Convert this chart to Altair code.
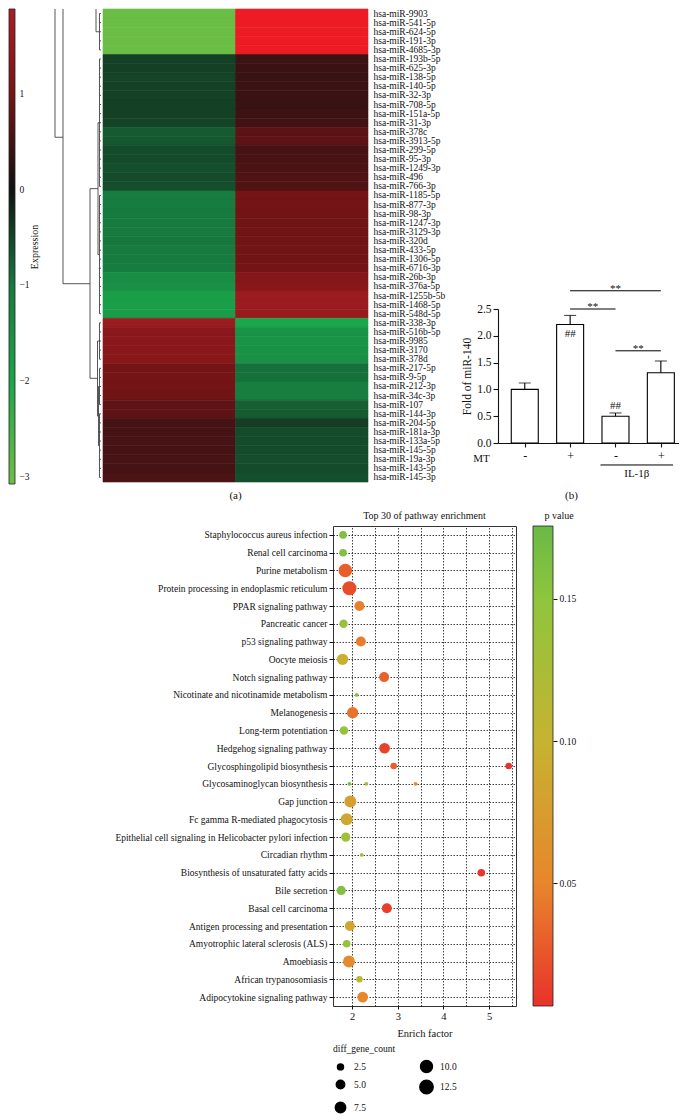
import json
import altair as alt
import pandas as pd

FONT = "Liberation Serif"
INK = "#111111"

# ---------------- (a) heatmap data ----------------
mirna = [
    "hsa-miR-9903", "hsa-miR-541-5p", "hsa-miR-624-5p", "hsa-miR-191-3p", "hsa-miR-4685-3p",
    "hsa-miR-193b-5p", "hsa-miR-625-3p", "hsa-miR-138-5p", "hsa-miR-140-5p", "hsa-miR-32-3p",
    "hsa-miR-708-5p", "hsa-miR-151a-5p", "hsa-miR-31-3p", "hsa-miR-378c", "hsa-miR-3913-5p",
    "hsa-miR-299-5p", "hsa-miR-95-3p", "hsa-miR-1249-3p", "hsa-miR-496", "hsa-miR-766-3p",
    "hsa-miR-1185-5p", "hsa-miR-877-3p", "hsa-miR-98-3p", "hsa-miR-1247-3p", "hsa-miR-3129-3p",
    "hsa-miR-320d", "hsa-miR-433-5p", "hsa-miR-1306-5p", "hsa-miR-6716-3p", "hsa-miR-26b-3p",
    "hsa-miR-376a-5p", "hsa-miR-1255b-5b", "hsa-miR-1468-5p", "hsa-miR-548d-5p", "hsa-miR-338-3p",
    "hsa-miR-516b-5p", "hsa-miR-9985", "hsa-miR-3170", "hsa-miR-378d", "hsa-miR-217-5p",
    "hsa-miR-9-5p", "hsa-miR-212-3p", "hsa-miR-34c-3p", "hsa-miR-107", "hsa-miR-144-3p",
    "hsa-miR-204-5p", "hsa-miR-181a-3p", "hsa-miR-133a-5p", "hsa-miR-145-5p", "hsa-miR-19a-3p",
    "hsa-miR-143-5p", "hsa-miR-145-3p",
]
expr_left = [
    -3, -3, -3, -3, -3,
    -0.45, -0.45, -0.48, -0.45, -0.47, -0.45, -0.46, -0.48,
    -0.70, -0.68,
    -0.55, -0.55, -0.58, -0.55, -0.58,
    -1.05, -1.05, -1.0, -1.0, -1.0, -0.98, -1.0, -1.02, -1.05,
    -1.45, -1.5,
    -1.85, -1.85, -1.8,
    1.6, 1.3, 1.3, 1.28, 1.25,
    0.95, 0.95, 0.95, 0.9,
    0.75, 0.72,
    0.5, 0.5, 0.52, 0.5, 0.52, 0.5, 0.55,
]
expr_right = [
    3, 3, 3, 3, 3,
    0.42, 0.40, 0.38, 0.40, 0.40, 0.38, 0.42, 0.45,
    0.70, 0.72,
    0.50, 0.52, 0.55, 0.58, 0.60,
    0.95, 0.95, 0.92, 0.9, 0.9, 0.9, 0.9, 0.92, 0.95,
    1.2, 1.25,
    1.6, 1.6, 1.55,
    -2.0, -1.6, -1.6, -1.55, -1.5,
    -0.9, -0.9, -1.1, -1.1,
    -0.75, -0.7,
    -0.42, -0.55, -0.55, -0.55, -0.58, -0.55, -0.58,
]
sample_names = ["S1", "S2"]
expr_ticks = [-3, -2, -1, 0, 1]
expr_stops = [-3, -2, -1, 0, 1, 2, 3]
expr_colors = ["#6abd45", "#1aa64a", "#177a3f", "#111111", "#7a1416", "#b01f27", "#ed1c24"]
expr_bar_lo, expr_bar_hi = -3.08, 1.88

# dendrogram (heights in distance units, positions in row units)
leaf_first = [1, 6, 21, 35, 40, 45]
leaf_last = [5, 20, 34, 39, 44, 52]
leaf_height = [1.5, 1.5, 1.5, 1.5, 1.5, 1.5]
node_h1 = [3, 1.5, 1.5, 2.5, 1.5, 1.5, 3.5, 1.5, 2.5, 11, 3, 3.5, 5, 1.5, 38, 5, 11, 46, 38]
node_h2 = [3, 3, 3, 2.5, 2.5, 2.5, 3.5, 3.5, 3.5, 11, 11, 11, 5, 5, 38, 38, 38, 46, 46]
node_r1 = [13, 13, 27.5, 42, 42, 48.5, 37, 37, 45.25, 20.25, 20.25, 41.1, -6, 3, -1.5, -1.5, 30.7, -20, 14.6]
node_r2 = [27.5, 13, 27.5, 48.5, 42, 48.5, 45.25, 37, 45.25, 41.1, 20.25, 41.1, 3, 3, 30.7, -1.5, 30.7, 14.6, 14.6]

# ---------------- (b) bar chart data ----------------
bar_pos = [1, 2, 3, 4]
bar_mean = [1.00, 2.21, 0.50, 1.31]
bar_sd = [0.12, 0.17, 0.06, 0.22]
mt_sign = ["-", "+", "-", "+"]
hash_pos = [2, 3]
hash_y = [2.03, 0.69]
sig_from = [2, 2, 3]
sig_to = [4, 3, 4]
sig_y = [2.84, 2.50, 1.72]
il_from, il_to, il_line_y, il_text_y = 2.67, 4.27, -0.41, -0.58
bar_ticks = [0, 0.5, 1.0, 1.5, 2.0, 2.5]

# ---------------- (c) enrichment dot plot data ----------------
pathways = [
    "Staphylococcus aureus infection", "Renal cell carcinoma", "Purine metabolism",
    "Protein processing in endoplasmic reticulum", "PPAR signaling pathway", "Pancreatic cancer",
    "p53 signaling pathway", "Oocyte meiosis", "Notch signaling pathway",
    "Nicotinate and nicotinamide metabolism", "Melanogenesis", "Long-term potentiation",
    "Hedgehog signaling pathway", "Glycosphingolipid biosynthesis", "Glycosaminoglycan biosynthesis",
    "Gap junction", "Fc gamma R-mediated phagocytosis",
    "Epithelial cell signaling in Helicobacter pylori infection", "Circadian rhythm",
    "Biosynthesis of unsaturated fatty acids", "Bile secretion", "Basal cell carcinoma",
    "Antigen processing and presentation", "Amyotrophic lateral sclerosis (ALS)", "Amoebiasis",
    "African trypanosomiasis", "Adipocytokine signaling pathway",
]
pt_path = [
    "Staphylococcus aureus infection", "Renal cell carcinoma", "Purine metabolism",
    "Protein processing in endoplasmic reticulum", "PPAR signaling pathway", "Pancreatic cancer",
    "p53 signaling pathway", "Oocyte meiosis", "Notch signaling pathway",
    "Nicotinate and nicotinamide metabolism", "Melanogenesis", "Long-term potentiation",
    "Hedgehog signaling pathway", "Glycosphingolipid biosynthesis", "Glycosphingolipid biosynthesis",
    "Glycosaminoglycan biosynthesis", "Glycosaminoglycan biosynthesis", "Glycosaminoglycan biosynthesis",
    "Gap junction", "Fc gamma R-mediated phagocytosis",
    "Epithelial cell signaling in Helicobacter pylori infection", "Circadian rhythm",
    "Biosynthesis of unsaturated fatty acids", "Bile secretion", "Basal cell carcinoma",
    "Antigen processing and presentation", "Amyotrophic lateral sclerosis (ALS)", "Amoebiasis",
    "African trypanosomiasis", "Adipocytokine signaling pathway",
]
pt_enrich = [1.80, 1.80, 1.85, 1.94, 2.16, 1.81, 2.19, 1.79, 2.70, 2.10, 2.01, 1.82, 2.71,
             2.91, 5.43, 1.94, 2.31, 3.39, 1.96, 1.88, 1.86, 2.21, 4.83, 1.76, 2.76, 1.95,
             1.88, 1.93, 2.16, 2.23]
pt_count = [4, 4, 13, 14, 7, 5, 7, 9, 7, 1, 9, 5, 8, 3, 3, 1, 1, 1, 10, 10, 6, 1, 4, 6, 7,
            7, 4, 10, 3, 8]
pt_p = [0.160, 0.160, 0.030, 0.020, 0.047, 0.140, 0.045, 0.095, 0.032, 0.160, 0.040, 0.145,
        0.015, 0.030, 0.007, 0.165, 0.130, 0.050, 0.078, 0.088, 0.135, 0.130, 0.009, 0.160,
        0.013, 0.085, 0.140, 0.055, 0.110, 0.050]
p_stops = [0.0067, 0.05, 0.10, 0.15, 0.1757]
p_colors = ["#e8322a", "#e8862c", "#c6b331", "#8fc53d", "#6ab946"]
p_ticks = [0.05, 0.10, 0.15]
ef_grid = [2, 2.5, 3, 3.5, 4, 4.5, 5, 5.5]
size_legend_values = [2.5, 5.0, 7.5, 10.0, 12.5]

ROW_H = 473


def spacer(w, h=2):
    return (
        alt.Chart(pd.DataFrame({"v": [0]}))
        .mark_point(opacity=0, size=1)
        .encode(x=alt.value(1), y=alt.value(1))
        .properties(width=w, height=h)
    )


# ---------- colour bar for expression ----------
grad1 = alt.LinearGradient(
    gradient="linear", x1=0, x2=0, y1=1, y2=0,
    stops=[
        alt.GradientStop(color="#6abd45", offset=0.0),
        alt.GradientStop(color="#6abd45", offset=0.016),
        alt.GradientStop(color="#1aa64a", offset=0.218),
        alt.GradientStop(color="#177a3f", offset=0.419),
        alt.GradientStop(color="#111111", offset=0.621),
        alt.GradientStop(color="#7a1416", offset=0.823),
        alt.GradientStop(color="#a91e25", offset=1.0),
    ],
)
cbar1 = (
    alt.Chart(pd.DataFrame({"lo": [expr_bar_lo], "hi": [expr_bar_hi]}))
    .mark_rect(fill=grad1, stroke="#222222", strokeWidth=0.8)
    .encode(
        y=alt.Y("lo:Q", scale=alt.Scale(domain=[expr_bar_lo, expr_bar_hi], nice=False, zero=False),
                axis=alt.Axis(orient="right", values=expr_ticks, format="d", ticks=False, domain=False,
                              grid=False, labelFontSize=9.5, labelPadding=4, title="Expression",
                              titleAngle=270, titleFontSize=10, titlePadding=10)),
        y2="hi:Q",
        x=alt.value(0),
        x2=alt.value("width"),
    )
    .properties(width=6, height=475)
)

# ---------- dendrogram ----------
seg = {"h1": [], "h2": [], "r1": [], "r2": []}
for f, l, h in zip(leaf_first, leaf_last, leaf_height):
    seg["h1"].append(h); seg["h2"].append(h); seg["r1"].append(f); seg["r2"].append(l)
    for r in range(f, l + 1):
        seg["h1"].append(0); seg["h2"].append(h); seg["r1"].append(r); seg["r2"].append(r)
for a, b, c, d in zip(node_h1, node_h2, node_r1, node_r2):
    seg["h1"].append(a); seg["h2"].append(b); seg["r1"].append(c); seg["r2"].append(d)
dendro = (
    alt.Chart(pd.DataFrame(seg))
    .mark_rule(color="#444444", strokeWidth=0.9, clip=True)
    .encode(
        x=alt.X("h1:Q", scale=alt.Scale(domain=[0, 84], reverse=True, nice=False, zero=False), axis=None),
        x2="h2:Q",
        y=alt.Y("r1:Q", scale=alt.Scale(domain=[0.5, len(mirna) + 0.5], reverse=True, nice=False, zero=False), axis=None),
        y2="r2:Q",
    )
    .properties(width=84, height=ROW_H)
)

# ---------- heatmap ----------
heat_df = pd.DataFrame({
    "miRNA": mirna * 2,
    "sample": [sample_names[0]] * len(mirna) + [sample_names[1]] * len(mirna),
    "expr": expr_left + expr_right,
})
expr_scale = alt.Scale(domain=expr_stops, range=expr_colors, interpolate="rgb")
heat = (
    alt.Chart(heat_df)
    .mark_rect(strokeWidth=0.6)
    .encode(
        x=alt.X("sample:N", sort=sample_names, axis=None, scale=alt.Scale(paddingInner=0, paddingOuter=0)),
        y=alt.Y("miRNA:N", sort=mirna, scale=alt.Scale(paddingInner=0, paddingOuter=0),
                axis=alt.Axis(orient="right", title=None, ticks=False, domain=False, labelFontSize=9.5,
                              labelPadding=5, labelLimit=200)),
        color=alt.Color("expr:Q", scale=expr_scale, legend=None),
        stroke=alt.Stroke("expr:Q", scale=expr_scale, legend=None),
    )
    .properties(width=265, height=ROW_H,
                title=alt.TitleParams("(a)", orient="bottom", fontSize=11, offset=8))
)

# ---------- (b) bar chart ----------
bar_df = pd.DataFrame({"pos": bar_pos, "mean": bar_mean, "sd": bar_sd})
bar_df["top"] = bar_df["mean"] + bar_df["sd"]
xs = alt.Scale(domain=[0.52, 4.29], nice=False, zero=False)
ys = alt.Scale(domain=[0, 2.5], range=[434, 300], nice=False, zero=False)
label_expr = json.dumps(mt_sign) + "[datum.value - 1]"
x_axis = alt.Axis(orient="bottom", offset=-(ROW_H - 434), values=bar_pos, labelExpr=label_expr,
                  tickSize=4, tickWidth=1.1, domainWidth=1.1, labelFontSize=12, labelPadding=3,
                  grid=False, title="MT", titleX=-17, titleY=15, titleAlign="center",
                  titleBaseline="middle", titleAngle=0, titleFontSize=11)
y_axis = alt.Axis(values=bar_ticks, format=".1f", tickSize=5, tickWidth=1.1, domainWidth=1.1,
                  grid=False, labelFontSize=11.5, labelPadding=2, title="Fold of miR-140",
                  titleFontSize=11.5, titlePadding=4)

bars = alt.Chart(bar_df).mark_bar(size=27, fill="white", stroke="black", strokeWidth=1.1, orient="vertical").encode(
    x=alt.X("pos:Q", scale=xs, axis=x_axis),
    y=alt.Y("mean:Q", scale=ys, axis=y_axis),
    y2=alt.datum(0),
)
err = alt.Chart(bar_df).mark_rule(color="black", strokeWidth=1.1).encode(
    x=alt.X("pos:Q", scale=xs, axis=x_axis), y=alt.Y("mean:Q", scale=ys, axis=y_axis), y2="top:Q")
cap = alt.Chart(bar_df).mark_tick(color="black", orient="horizontal", size=12, thickness=1.1).encode(
    x=alt.X("pos:Q", scale=xs, axis=x_axis), y=alt.Y("top:Q", scale=ys, axis=y_axis))
hash_txt = alt.Chart(pd.DataFrame({"pos": hash_pos, "y": hash_y, "t": ["##", "##"]})).mark_text(
    font=FONT, fontSize=11, color=INK, baseline="middle").encode(
    x=alt.X("pos:Q", scale=xs, axis=x_axis), y=alt.Y("y:Q", scale=ys, axis=y_axis), text="t:N")
sig_df = pd.DataFrame({"a": sig_from, "b": sig_to, "y": sig_y})
sig_df["mid"] = (sig_df["a"] + sig_df["b"]) / 2
sig_df["t"] = "**"
sig_lines = alt.Chart(sig_df).mark_rule(color="black", strokeWidth=1).encode(
    x=alt.X("a:Q", scale=xs, axis=x_axis), x2="b:Q", y=alt.Y("y:Q", scale=ys, axis=y_axis))
sig_txt = alt.Chart(sig_df).mark_text(font=FONT, fontSize=11, color=INK, baseline="alphabetic", dy=1).encode(
    x=alt.X("mid:Q", scale=xs, axis=x_axis), y=alt.Y("y:Q", scale=ys, axis=y_axis), text="t:N")
il_df = pd.DataFrame({"a": [il_from], "b": [il_to], "y": [il_line_y], "ty": [il_text_y],
                      "mid": [(il_from + il_to) / 2], "t": ["IL-1β"]})
il_line = alt.Chart(il_df).mark_rule(color="black", strokeWidth=1).encode(
    x=alt.X("a:Q", scale=xs, axis=x_axis), x2="b:Q", y=alt.Y("y:Q", scale=ys, axis=y_axis))
il_txt = alt.Chart(il_df).mark_text(font=FONT, fontSize=11, color=INK, baseline="middle").encode(
    x=alt.X("mid:Q", scale=xs, axis=x_axis), y=alt.Y("ty:Q", scale=ys, axis=y_axis), text="t:N")

barchart = alt.layer(bars, err, cap, hash_txt, sig_lines, sig_txt, il_line, il_txt).properties(
    width=181, height=ROW_H,
    title=alt.TitleParams("(b)", orient="bottom", fontSize=11, offset=8, dx=-17))

row1 = alt.hconcat(cbar1, dendro, heat, spacer(126), barchart, spacing=2, bounds="flush")

# ---------- (c) dot plot ----------
dot_df = pd.DataFrame({"pathway": pt_path, "enrich": pt_enrich, "count": pt_count, "p": pt_p})
p_scale = alt.Scale(domain=p_stops, range=p_colors, interpolate="rgb")
dots = (
    alt.Chart(dot_df)
    .mark_circle(opacity=1)
    .encode(
        x=alt.X("enrich:Q", scale=alt.Scale(domain=[1.58, 5.59], nice=False, zero=False),
                axis=alt.Axis(values=ef_grid,
                              labelExpr="datum.value % 1 === 0 ? format(datum.value, 'd') : ''",
                              tickOpacity={"condition": {"test": "datum.value % 1 === 0", "value": 1}, "value": 0},
                              grid=True, gridDash=[1.5, 1.5], gridColor="#111111", gridWidth=0.8,
                              domain=False, tickSize=3, labelFontSize=10.5, labelPadding=2,
                              title="Enrich factor", titleFontSize=10.5, titlePadding=7)),
        y=alt.Y("pathway:N", sort=pathways, scale=alt.Scale(padding=0.5),
                axis=alt.Axis(grid=True, gridDash=[1.5, 1.5], gridColor="#111111", gridWidth=0.8,
                              domain=False, tickSize=4, labelFontSize=9.5, labelPadding=2,
                              labelLimit=300, title=None)),
        size=alt.Size("count:Q", scale=alt.Scale(domain=[0, 13], range=[0, 185]),
                      legend=alt.Legend(orient="none", legendX=0, legendY=518, title="diff_gene_count",
                                        titleFontSize=9.5, labelFontSize=9.5, columns=2,
                                        values=size_legend_values, format=".1f",
                                        symbolFillColor="black", symbolStrokeColor="black",
                                        symbolOpacity=1, columnPadding=50, rowPadding=1,
                                        labelOffset=6, titlePadding=6)),
        color=alt.Color("p:Q", scale=p_scale, legend=None),
    )
    .properties(width=183, height=480,
                view=alt.ViewBackground(stroke="#333333", strokeWidth=1),
                title=alt.TitleParams("Top 30 of pathway enrichment", fontSize=10, offset=5))
)

grad2 = alt.LinearGradient(
    gradient="linear", x1=0, x2=0, y1=1, y2=0,
    stops=[
        alt.GradientStop(color=p_colors[0], offset=0.0),
        alt.GradientStop(color=p_colors[1], offset=0.256),
        alt.GradientStop(color=p_colors[2], offset=0.552),
        alt.GradientStop(color=p_colors[3], offset=0.848),
        alt.GradientStop(color=p_colors[4], offset=1.0),
    ],
)
pcb = (
    alt.Chart(pd.DataFrame({"lo": [p_stops[0]], "hi": [p_stops[-1]]}))
    .mark_rect(fill=grad2, stroke="#222222", strokeWidth=0.8)
    .encode(
        y=alt.Y("lo:Q", scale=alt.Scale(domain=[p_stops[0], p_stops[-1]], nice=False, zero=False),
                axis=alt.Axis(orient="right", values=p_ticks, format=".2f", tickSize=4, domain=False,
                              grid=False, labelFontSize=9.5, labelPadding=2, title=None)),
        y2="hi:Q",
        x=alt.value(0),
        x2=alt.value("width"),
    )
    .properties(width=20, height=480,
                title=alt.TitleParams("p value", fontSize=10, anchor="start", offset=5, dx=12))
)

row2 = (
    alt.hconcat(spacer(307), dots, pcb, spacing=17, bounds="flush")
    .resolve_scale(color="independent", size="independent")
    .resolve_legend(size="independent", color="independent")
)

chart = (
    alt.vconcat(row1, row2, spacing=8)
    .resolve_scale(color="independent", size="independent", stroke="independent")
    .resolve_legend(size="independent", color="independent", stroke="independent")
    .properties(padding=0)
    .configure_view(stroke=None)
    .configure_axis(labelFont=FONT, titleFont=FONT, titleFontWeight="normal", labelColor=INK,
                    titleColor=INK, tickColor=INK, domainColor=INK)
    .configure_title(font=FONT, fontWeight="normal", color=INK, fontSize=10)
    .configure_legend(labelFont=FONT, titleFont=FONT, titleFontWeight="normal", labelColor=INK,
                      titleColor=INK)
)

chart.save("out.html", embed_options={"renderer": "svg", "actions": False})
